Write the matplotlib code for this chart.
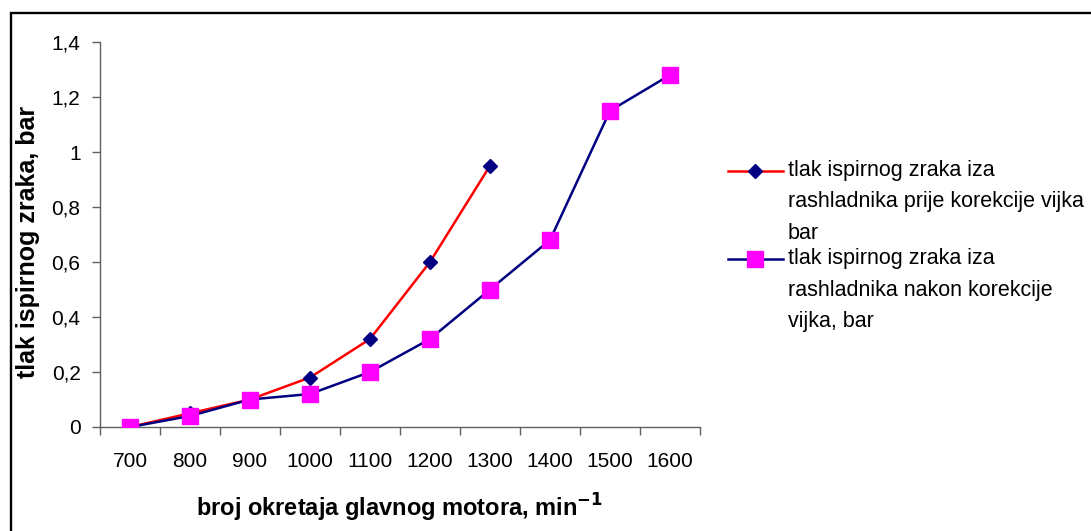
import matplotlib
matplotlib.use("Agg")
import matplotlib.pyplot as plt
from matplotlib.patches import Rectangle
from matplotlib.legend_handler import HandlerLine2D
import numpy as np

plt.rcParams['font.family'] = ['Liberation Sans', 'DejaVu Sans']

categories = ['700', '800', '900', '1000', '1100', '1200', '1300', '1400', '1500', '1600']
prije = [0.0, 0.05, 0.10, 0.18, 0.32, 0.60, 0.95]
nakon = [0.0, 0.04, 0.10, 0.12, 0.20, 0.32, 0.50, 0.68, 1.15, 1.28]
yticks = [0, 0.2, 0.4, 0.6, 0.8, 1.0, 1.2, 1.4]
ytick_labels = ['0', '0,2', '0,4', '0,6', '0,8', '1', '1,2', '1,4']
label_prije = 'tlak ispirnog zraka iza\nrashladnika prije korekcije vijka\nbar'
label_nakon = 'tlak ispirnog zraka iza\nrashladnika nakon korekcije\nvijka, bar'

W, H = 1091, 531
fig = plt.figure(figsize=(W / 100, H / 100), dpi=100)
ax = fig.add_axes([100 / W, 1 - 427 / H, 600 / W, 385 / H])

x1 = np.arange(len(prije))
x2 = np.arange(len(nakon))
l1, = ax.plot(x1, prije, color='#FF0000', lw=1.8, marker='D', markersize=7.6,
              markerfacecolor='#000080', markeredgecolor='#000080', label=label_prije, zorder=3)
l2, = ax.plot(x2, nakon, color='#000080', lw=1.8, marker='s', markersize=11.3,
              markerfacecolor='#FF00FF', markeredgecolor='#FF00FF', label=label_nakon, zorder=4)

ax.set_xlim(-0.5, len(categories) - 0.5)
ax.set_ylim(0, 1.4)
ax.set_xticks(np.arange(len(categories)))
ax.set_xticklabels(categories)
ax.set_xticks(np.arange(len(categories) + 1) - 0.5, minor=True)
ax.tick_params(axis='x', which='major', length=0, pad=18, labelsize=15)
ax.tick_params(axis='x', which='minor', length=6, width=1, color='#606060', direction='out')
ax.set_yticks(yticks)
ax.set_yticklabels(ytick_labels)
ax.tick_params(axis='y', length=6, width=1, color='#606060', direction='out', labelsize=15, pad=8)

for s in ['top', 'right']:
    ax.spines[s].set_visible(False)
for s in ['left', 'bottom']:
    ax.spines[s].set_color('#606060')
    ax.spines[s].set_linewidth(1)

ax.set_xlabel('broj okretaja glavnog motora, min$^{\\mathbf{-1}}$', fontsize=17, fontweight='bold')
ax.set_ylabel('tlak ispirnog zraka, bar', fontsize=18, fontweight='bold')
ax.xaxis.set_label_coords(0.5, (427 - 492) / 385)
ax.yaxis.set_label_coords((40 - 100) / 600, 0.48)


class TopHandler(HandlerLine2D):
    def __init__(self, shift, **kw):
        super().__init__(**kw)
        self.shift = shift

    def create_artists(self, legend, orig_handle, xdescent, ydescent, width, height, fontsize, trans):
        arts = super().create_artists(legend, orig_handle, xdescent, ydescent, width, height, fontsize, trans)
        for a in arts:
            a.set_ydata(np.asarray(a.get_ydata(), dtype=float) + self.shift)
        return arts


shift_pt = 22.5
leg = fig.legend(handles=[l1, l2], loc='upper left', bbox_to_anchor=(728 / W, 1 - 160 / H), frameon=False,
                 fontsize=15.5, handlelength=2.55, handletextpad=0.22, labelspacing=0.2,
                 borderaxespad=0, borderpad=0,
                 handler_map={l1: TopHandler(shift_pt), l2: TopHandler(shift_pt)})
for t in leg.get_texts():
    t.set_linespacing(1.65)

fig.patches.append(Rectangle((11.5 / W, -0.05), 1.2, 1 - 12.5 / H + 0.05, transform=fig.transFigure,
                             fill=False, edgecolor='black', linewidth=1.7))

fig.savefig('out.png', dpi=100)
